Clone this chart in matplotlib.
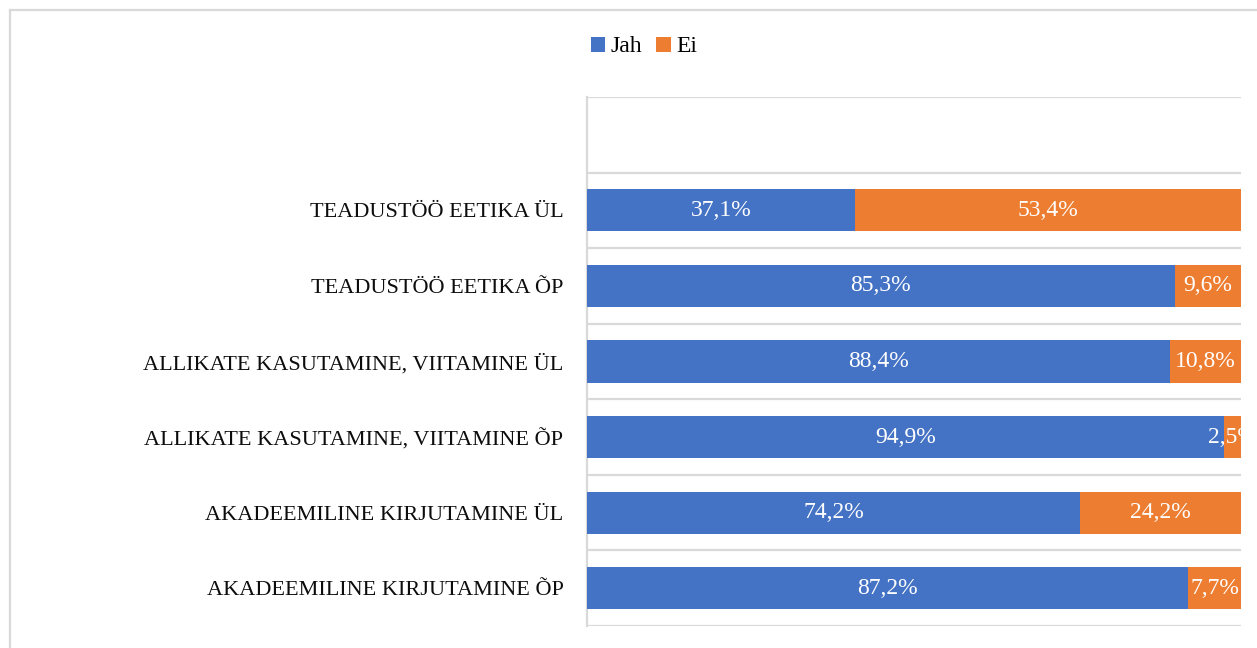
import matplotlib
matplotlib.use("Agg")
import matplotlib.pyplot as plt
from matplotlib.lines import Line2D
import numpy as np

# ---- data (bottom to top) ----
categories = [
    "AKADEEMILINE KIRJUTAMINE ÕP",
    "AKADEEMILINE KIRJUTAMINE ÜL",
    "ALLIKATE KASUTAMINE, VIITAMINE ÕP",
    "ALLIKATE KASUTAMINE, VIITAMINE ÜL",
    "TEADUSTÖÖ EETIKA ÕP",
    "TEADUSTÖÖ EETIKA ÜL",
]
jah = [87.2, 74.2, 94.9, 88.4, 85.3, 37.1]
ei = [7.7, 24.2, 2.5, 10.8, 9.6, 53.4]
series_names = ["Jah", "Ei"]
colors = ["#4472C4", "#ED7D31"]

plt.rcParams["font.family"] = ["Liberation Serif", "DejaVu Serif"]

W, H = 1257, 648
fig = plt.figure(figsize=(W / 100, H / 100), dpi=100)
ax = fig.add_axes([587 / W, 1 - 626 / H, (1241 - 587) / W, (626 - 97) / H])

jah_a = np.array(jah)
ei_a = np.array(ei)
tot = jah_a + ei_a
jah_p = jah_a / tot * 100
ei_p = ei_a / tot * 100

y = np.arange(len(categories))
bh = 0.556
b1 = ax.barh(y, jah_p, height=bh, color=colors[0], label=series_names[0], zorder=3)
b2 = ax.barh(y, ei_p, left=jah_p, height=bh, color=colors[1], label=series_names[1], zorder=3)

def fmt(v):
    return f"{v:.1f}%".replace(".", ",")

for i in range(len(categories)):
    ax.text(jah_p[i] / 2, y[i], fmt(jah[i]), ha="center", va="center",
            color="white", fontsize=17, zorder=4, clip_on=True)
    ax.text(jah_p[i] + ei_p[i] / 2, y[i], fmt(ei[i]), ha="center", va="center",
            color="white", fontsize=17, zorder=4, clip_on=True)

ax.set_xlim(0, 100)
ax.set_ylim(-0.5, len(categories) + 0.5)
ax.set_yticks(y)
ax.set_yticklabels(categories, fontsize=16, color="#0d0d0d")
ax.tick_params(axis="y", length=0, pad=17)
ax.set_xticks([])
for yy in np.arange(-0.5, len(categories) + 1, 1.0):
    ax.axhline(yy, color="#d9d9d9", lw=1.6, zorder=1)
for s in ["top", "right", "bottom"]:
    ax.spines[s].set_visible(False)
ax.spines["left"].set_color("#d9d9d9")
ax.spines["left"].set_linewidth(1.6)

leg = fig.legend(handles=[b1, b2], labels=series_names, loc="center",
                 bbox_to_anchor=(644 / W, 1 - 47 / H), ncol=2, frameon=False,
                 fontsize=17, handlelength=0.6, handleheight=0.6,
                 handletextpad=0.25, columnspacing=0.6)

# chart outer border (left and top visible)
fig.add_artist(Line2D([9.5 / W, 9.5 / W], [0, 1 - 9.5 / H], transform=fig.transFigure,
                      color="#d9d9d9", lw=1.6))
fig.add_artist(Line2D([9.5 / W, 1], [1 - 9.5 / H, 1 - 9.5 / H], transform=fig.transFigure,
                      color="#d9d9d9", lw=1.6))

fig.savefig("out.png", dpi=100)
